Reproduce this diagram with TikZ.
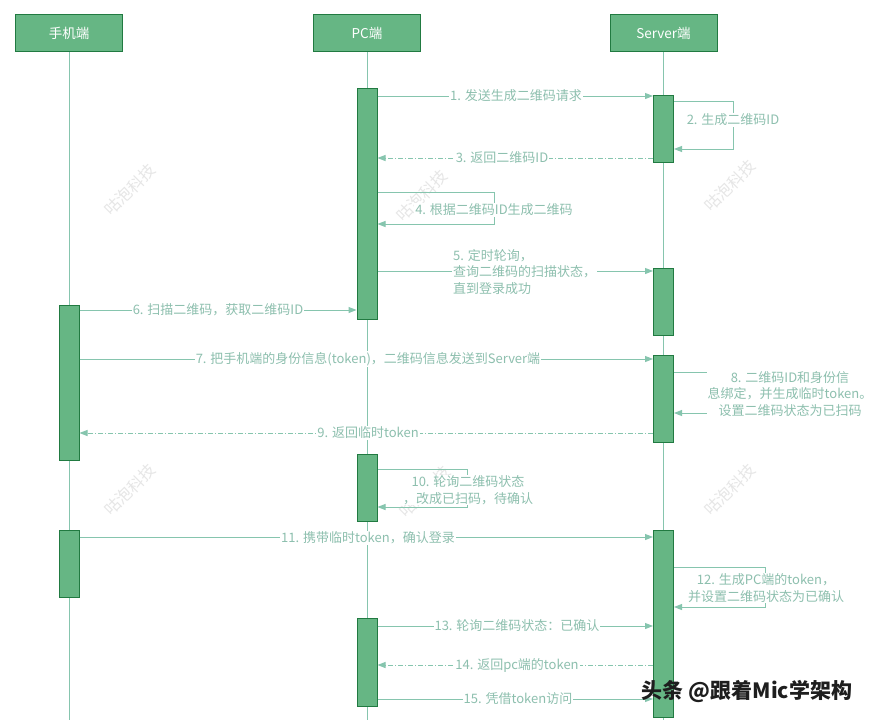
\documentclass[tikz,border=0pt]{standalone}
\usepackage{fontspec}
\setmainfont{Noto Sans CJK SC}
\usetikzlibrary{arrows.meta}
\definecolor{boxfill}{HTML}{66B684}
\definecolor{boxline}{HTML}{217A41}
\definecolor{lnc}{HTML}{86C5AE}
\definecolor{txtc}{HTML}{8DBFAE}
\definecolor{wm}{HTML}{E6E6E6}
\definecolor{ttc}{HTML}{1E1E1E}
\begin{document}
\begin{tikzpicture}[x=1pt,y=-1pt,
  head/.style={draw=boxline, line width=1pt, fill=boxfill, minimum width=107pt, minimum height=37pt, inner sep=0pt, text=white, font=\fontsize{13.5}{15}\selectfont},
  bar/.style={draw=boxline, line width=1pt, fill=boxfill, minimum width=20pt, inner sep=0pt, anchor=north},
  life/.style={draw=lnc, line width=0.8pt},
  msg/.style={draw=lnc, line width=1pt, -{Triangle[length=8pt,width=6pt]}},
  ret/.style={msg, dash pattern=on 5pt off 2pt on 1pt off 2pt},
  lbl/.style={fill=white, text=txtc, inner sep=1pt, font=\fontsize{13}{16.5}\selectfont},
  wmark/.style={text=wm, rotate=45, font=\fontsize{16}{16}\selectfont}]
\useasboundingbox (0,0) rectangle (877,720);
\fill[white] (0,0) rectangle (877,720);
% watermarks
\node[wmark] (w1) at (130,190) {咕泡科技};
\node[wmark] (w2) at (422,196) {咕泡科技};
\node[wmark] (w3) at (730,186) {咕泡科技};
\node[wmark] (w4) at (130,490) {咕泡科技};
\node[wmark] (w5) at (425,492) {咕泡科技};
\node[wmark] (w6) at (730,490) {咕泡科技};
% headers
\node[head] (hm) at (69,33) {手机端};
\node[head] (hp) at (367,33) {PC端};
\node[head] (hs) at (663.5,33) {Server端};
% lifelines
\coordinate (em) at (69,720);
\coordinate (ep) at (367,720);
\coordinate (es) at (663.5,720);
\draw[life] (hm.south) -- (em);
\draw[life] (hp.south) -- (ep);
\draw[life] (hs.south) -- (es);
% activation bars
\node[bar, minimum height=231pt] (p1) at (367,88) {};
\node[bar, minimum height=67pt] (s1) at (663.5,95) {};
\node[bar, minimum height=67pt] (s2) at (663.5,268) {};
\node[bar, minimum height=155pt] (m1) at (69,305) {};
\node[bar, minimum height=87pt] (s3) at (663.5,355) {};
\node[bar, minimum height=67pt] (p2) at (367,454) {};
\node[bar, minimum height=67pt] (m2) at (69,530) {};
\node[bar, minimum height=187pt] (s4) at (663.5,530) {};
\node[bar, minimum height=88pt] (p3) at (367,618) {};
% 1
\draw[msg] (p1.east |- 0,96) -- (s1.west |- 0,96);
\node[lbl] (l1) at (516,96) {1. 发送生成二维码请求};
% 2
\draw[msg] (s1.east |- 0,101) -- (733,101) -- (733,149) -- (s1.east |- 0,149);
\node[lbl] (l2) at (733,120) {2. 生成二维码ID};
% 3
\draw[ret] (s1.west |- 0,158) -- (p1.east |- 0,158);
\node[lbl] (l3) at (502,158) {3. 返回二维码ID};
% 4
\draw[msg] (p1.east |- 0,192) -- (494,192) -- (494,224) -- (p1.east |- 0,224);
\node[lbl] (l4) at (494,210) {4. 根据二维码ID生成二维码};
% 5
\draw[msg] (p1.east |- 0,271) -- (s2.west |- 0,271);
\node[lbl, anchor=west, align=left] (l5) at (452,272) {5. 定时轮询，\\查询二维码的扫描状态，\\直到登录成功};
% 6
\draw[msg] (m1.east |- 0,310) -- (p1.west |- 0,310);
\node[lbl] (l6) at (218,310) {6. 扫描二维码，获取二维码ID};
% 7
\draw[msg] (m1.east |- 0,359) -- (s3.west |- 0,359);
\node[lbl] (l7) at (368,359) {7. 把手机端的身份信息(token)，二维码信息发送到Server端};
% 8
\draw[msg] (s3.east |- 0,372) -- (790,372) -- (790,413) -- (s3.east |- 0,413);
\node[lbl, align=center] (l8) at (790,394) {8. 二维码ID和身份信\\息绑定，并生成临时token。\\设置二维码状态为已扫码};
% 9
\draw[ret] (s3.west |- 0,433) -- (m1.east |- 0,433);
\node[lbl] (l9) at (368,433) {9. 返回临时token};
% 10
\draw[msg] (p2.east |- 0,469) -- (467,469) -- (467,507) -- (p2.east |- 0,507);
\node[lbl, align=center] (l10) at (468,490) {10. 轮询二维码状态\\，改成已扫码，待确认};
% 11
\draw[msg] (m2.east |- 0,537) -- (s4.west |- 0,537);
\node[lbl] (l11) at (368,538) {11. 携带临时token，确认登录};
% 12
\draw[msg] (s4.east |- 0,567) -- (765,567) -- (765,607) -- (s4.east |- 0,607);
\node[lbl, align=center] (l12) at (766,588) {12. 生成PC端的token，\\并设置二维码状态为已确认};
% 13
\draw[msg] (p3.east |- 0,626) -- (s4.west |- 0,626);
\node[lbl] (l13) at (517,626) {13. 轮询二维码状态：已确认};
% 14
\draw[ret] (s4.west |- 0,665) -- (p3.east |- 0,665);
\node[lbl] (l14) at (517,665) {14. 返回pc端的token};
% 15
\draw[msg] (p3.east |- 0,699) -- (s4.west |- 0,699);
\node[lbl] (l15) at (518,699) {15. 凭借token访问};
% platform watermark
\node[text=ttc, inner sep=0pt, font=\fontsize{21}{21}\selectfont\bfseries] (tt) at (747,691) {头条 @跟着Mic学架构};
\end{tikzpicture}
\end{document}
